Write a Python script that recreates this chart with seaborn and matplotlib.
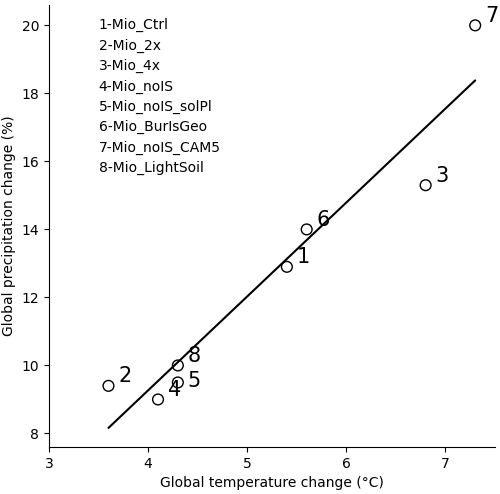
import matplotlib
matplotlib.use("Agg")
import matplotlib.pyplot as plt
import seaborn as sns
import pandas as pd

labels = ["1", "2", "3", "4", "5", "6", "7", "8"]
names = ["1-Mio_Ctrl", "2-Mio_2x", "3-Mio_4x", "4-Mio_noIS", "5-Mio_noIS_solPl",
         "6-Mio_BurIsGeo", "7-Mio_noIS_CAM5", "8-Mio_LightSoil"]
temp = [5.4, 3.6, 6.8, 4.1, 4.3, 5.6, 7.3, 4.3]
precip = [12.9, 9.4, 15.3, 9.0, 9.5, 14.0, 20.0, 10.0]

df = pd.DataFrame({"temp": temp, "precip": precip, "label": labels})

sns.set_style("ticks")
plt.rcParams['font.family'] = ['DejaVu Sans']
plt.rcParams['text.color'] = 'black'
plt.rcParams['axes.labelcolor'] = 'black'
plt.rcParams['xtick.color'] = 'black'
plt.rcParams['ytick.color'] = 'black'
plt.rcParams['axes.edgecolor'] = 'black'

fig = plt.figure(figsize=(5.0, 4.94), dpi=100)
ax = fig.add_axes([0.098, 0.095, 0.892, 0.895])

sns.regplot(data=df, x="temp", y="precip", scatter=False, ci=None,
            line_kws=dict(color="black", lw=1.5), ax=ax)
sns.scatterplot(data=df, x="temp", y="precip", s=60, facecolor="none",
                edgecolor="black", linewidth=1.0, ax=ax, zorder=3)

for t, p, lab in zip(temp, precip, labels):
    dy = -0.12 if lab == "5" else 0.1
    ax.text(t + 0.1, p + dy, lab, fontsize=15, ha="left", va="baseline", color="black")

for i, n in enumerate(names):
    ax.text(3.5, 20.0 - 0.6 * i, n, fontsize=10, ha="left", va="center", color="black")

ax.set_xlim(3, 7.5)
ax.set_ylim(7.6, 20.6)
ax.set_xticks([3, 4, 5, 6, 7])
ax.set_yticks([8, 10, 12, 14, 16, 18, 20])
ax.set_xlabel("Global temperature change (°C)", fontsize=10, color="black")
ax.set_ylabel("Global precipitation change (%)", fontsize=10, color="black")
ax.tick_params(labelsize=10, colors="black")
sns.despine(ax=ax)

fig.savefig("out.png", dpi=100)
